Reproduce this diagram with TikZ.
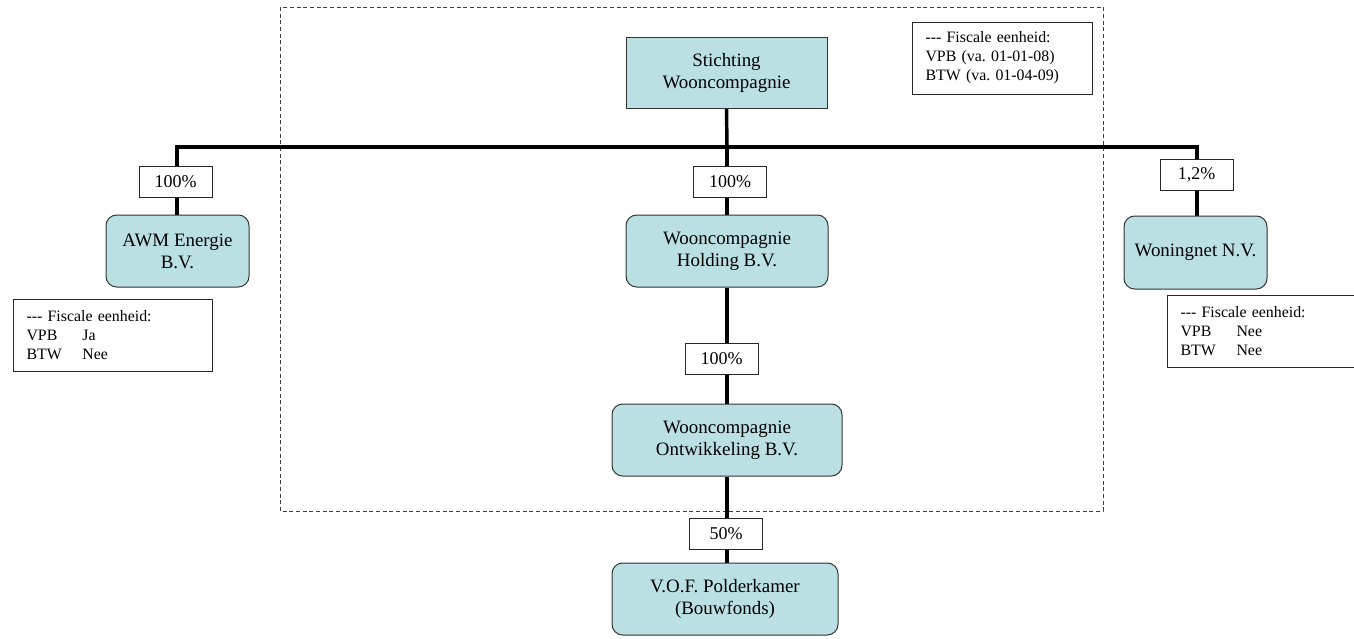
\documentclass[tikz,border=0pt]{standalone}
\usepackage{fontspec}
\setmainfont{Liberation Serif}
\usetikzlibrary{backgrounds}
\definecolor{entfill}{RGB}{187,224,227}
\begin{document}
\frenchspacing
\begin{tikzpicture}[x=0.75pt,y=-0.75pt,
  entity/.style={draw=black!80,line width=0.75pt,fill=entfill,align=center,
    inner sep=0pt,font=\fontsize{14.2}{16.5}\selectfont},
  rentity/.style={entity,rounded corners=8pt},
  pct/.style={draw=black!85,line width=0.7pt,fill=white,inner sep=0pt,
    minimum width=73*0.75pt,minimum height=31*0.75pt,font=\fontsize{13.5}{16}\selectfont},
  fisc/.style={draw=black!85,line width=0.7pt,fill=white,align=left,inner ysep=0pt,
    inner xsep=9.5pt,minimum height=72*0.75pt,font=\fontsize{11.9}{14.25}\selectfont},
  link/.style={line width=2.6pt,line join=miter},
  region/.style={draw=black!75,line width=0.6pt,dash pattern=on 3pt off 2pt}
  ]
\useasboundingbox (0,0) rectangle (1354,639);
\clip (0,0) rectangle (1354,639);

% entities
\node[entity,minimum width=201*0.75pt,minimum height=71*0.75pt] (stich) at (726.5,72.5) {Stichting\\Wooncompagnie};
\node[rentity,minimum width=143*0.75pt,minimum height=72*0.75pt] (awm) at (177.5,251) {AWM Energie\\B.V.};
\node[rentity,minimum width=202*0.75pt,minimum height=72*0.75pt] (hold) at (727,251) {Wooncompagnie\\Holding B.V.};
\node[rentity,minimum width=143*0.75pt,minimum height=73*0.75pt] (wng) at (1195.5,252.5) {Woningnet N.V.};
\node[rentity,minimum width=230*0.75pt,minimum height=72*0.75pt] (ontw) at (727,440) {Wooncompagnie\\Ontwikkeling B.V.};
\node[rentity,minimum width=226*0.75pt,minimum height=72*0.75pt] (vof) at (725,599) {V.O.F. Polderkamer\\(Bouwfonds)};

% fiscal notes
\node[fisc,text width=154*0.75pt] (ftop) at (1002.5,58) {{-}{-}{-} Fiscale eenheid:\\VPB (va. 01-01-08)\\BTW (va. 01-04-09)};
\node[fisc,text width=173*0.75pt] (fleft) at (113,335) {{-}{-}{-} Fiscale eenheid:\\\makebox[42pt][l]{VPB}Ja\\\makebox[42pt][l]{BTW}Nee};
\node[fisc,text width=173*0.75pt] (fright) at (1267,331.5) {{-}{-}{-} Fiscale eenheid:\\\makebox[42pt][l]{VPB}Nee\\\makebox[42pt][l]{BTW}Nee};

% percentage labels
\node[pct] (p1) at (175.5,181.5) {100\%};
\node[pct] (p2) at (730,182) {100\%};
\node[pct] (p3) at (1196.5,174.5) {1,2\%};
\node[pct] (p4) at (721.5,358.5) {100\%};
\node[pct] (p5) at (726,534) {50\%};

\coordinate (busL) at (177,147);
\coordinate (busC) at (727,147);
\coordinate (busR) at (1197,147);

\begin{scope}[on background layer]
  \draw[region] (280,7) rectangle (1103,511);
  \draw[link] (busL |- awm.north) -- (busL) -- (busR) -- (busR |- wng.north);
  \draw[link] (stich.south) -- (busC);
  \draw[link] (busC) -- (busC |- hold.north);
  \draw[link] (hold.south) -- (hold.south |- ontw.north);
  \draw[link] (ontw.south) -- (ontw.south |- vof.north);
\end{scope}
\end{tikzpicture}
\end{document}
